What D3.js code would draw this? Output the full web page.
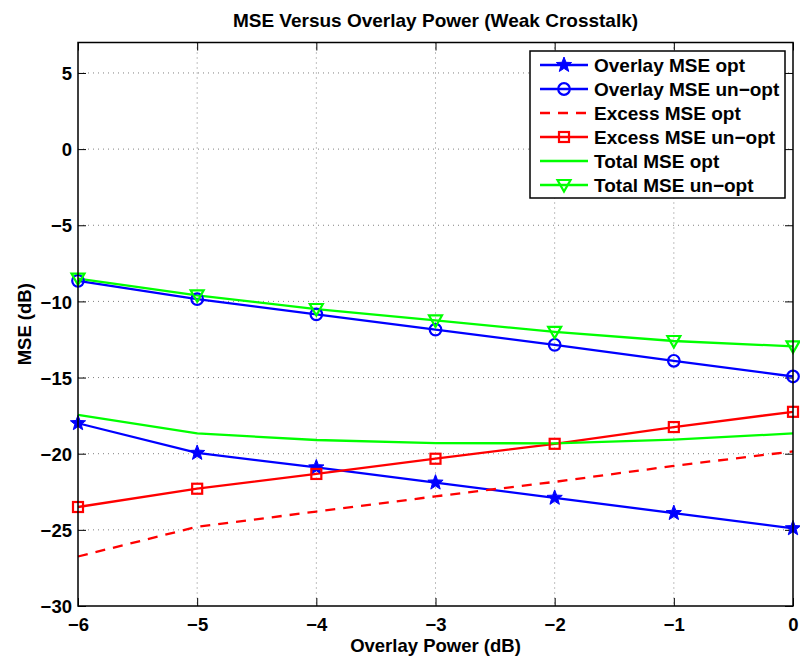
<!DOCTYPE html>
<html>
<head>
<meta charset="utf-8">
<script src="https://cdn.jsdelivr.net/npm/d3@7/dist/d3.min.js"></script>
<style>
  html, body { margin: 0; padding: 0; background: #fff; }
  svg { display: block; }
  text { font-family: "Liberation Sans", Arial, Helvetica, sans-serif; font-weight: bold; fill: #000; }
</style>
</head>
<body>
<svg id="chart" width="800" height="658"></svg>
<script>
// ---- data ----
const xValues = [-6, -5, -4, -3, -2, -1, 0];
const overlayOpt   = [-18.0, -19.95, -20.9, -21.9, -22.9, -23.9, -24.9];
const overlayUnopt = [-8.65, -9.85, -10.85, -11.85, -12.85, -13.9, -14.93];
const excessOpt    = [-26.75, -24.8, -23.8, -22.8, -21.85, -20.8, -19.85];
const excessUnopt  = [-23.5, -22.3, -21.33, -20.33, -19.35, -18.25, -17.25];
const totalOpt     = [-17.45, -18.67, -19.1, -19.3, -19.32, -19.07, -18.67];
const totalUnopt   = [-8.5, -9.6, -10.5, -11.25, -12.0, -12.6, -12.95];
const xTicks = [-6, -5, -4, -3, -2, -1, 0];
const yTicks = [-30, -25, -20, -15, -10, -5, 0, 5];
const seriesNames = ["Overlay MSE opt", "Overlay MSE un\u2212opt", "Excess MSE opt",
                     "Excess MSE un\u2212opt", "Total MSE opt", "Total MSE un\u2212opt"];

const series = [
  { name: seriesNames[0], values: overlayOpt,   color: "#0000ff", dash: null,   marker: "star" },
  { name: seriesNames[1], values: overlayUnopt, color: "#0000ff", dash: null,   marker: "circle" },
  { name: seriesNames[2], values: excessOpt,    color: "#ff0000", dash: "10,8", marker: null },
  { name: seriesNames[3], values: excessUnopt,  color: "#ff0000", dash: null,   marker: "square" },
  { name: seriesNames[4], values: totalOpt,     color: "#00ff00", dash: null,   marker: null },
  { name: seriesNames[5], values: totalUnopt,   color: "#00ff00", dash: null,   marker: "triangle" }
];

// ---- layout ----
const L = 78, R = 793, T = 42.5, B = 606;
const svg = d3.select("#chart");
const x = d3.scaleLinear().domain([-6, 0]).range([L, R]);
const y = d3.scaleLinear().domain([-30, 7]).range([B, T]);

// grid
const grid = svg.append("g");
grid.selectAll("line.gx").data(xTicks.filter(d => d > -6 && d < 0)).enter().append("line")
  .attr("x1", d => x(d)).attr("x2", d => x(d)).attr("y1", T).attr("y2", B)
  .attr("stroke", "#808080").attr("stroke-width", 1).attr("stroke-dasharray", "1,4");
grid.selectAll("line.gy").data(yTicks.filter(d => d > -30)).enter().append("line")
  .attr("x1", L).attr("x2", R).attr("y1", d => y(d)).attr("y2", d => y(d))
  .attr("stroke", "#808080").attr("stroke-width", 1).attr("stroke-dasharray", "1,4");

// axes (ticks inside, box)
const tl = 8;
const fmt = d => d < 0 ? "\u2212" + Math.abs(d) : d;
const axB = svg.append("g").attr("transform", `translate(0,${B})`)
  .call(d3.axisBottom(x).tickValues(xTicks).tickSizeInner(-tl).tickSizeOuter(0).tickPadding(12).tickFormat(fmt));
const axT = svg.append("g").attr("transform", `translate(0,${T})`)
  .call(d3.axisTop(x).tickValues(xTicks).tickSizeInner(-tl).tickSizeOuter(0).tickFormat(""));
const axL = svg.append("g").attr("transform", `translate(${L},0)`)
  .call(d3.axisLeft(y).tickValues(yTicks).tickSizeInner(-tl).tickSizeOuter(0).tickPadding(6).tickFormat(fmt));
const axR = svg.append("g").attr("transform", `translate(${R},0)`)
  .call(d3.axisRight(y).tickValues(yTicks).tickSizeInner(-tl).tickSizeOuter(0).tickFormat(""));
[axB, axT, axL, axR].forEach(a => {
  a.select(".domain").remove();
  a.selectAll(".tick line").attr("stroke", "#000").attr("stroke-width", 1);
  a.selectAll("text").attr("font-size", 18.5).attr("font-weight", "bold")
    .attr("font-family", "'Liberation Sans', Arial, sans-serif").attr("fill", "#000");
});
axB.selectAll("text").attr("dy", "0.71em");
axL.selectAll("text").attr("dy", "0.36em");

// lines
const line = d3.line().x((d, i) => x(xValues[i])).y(d => y(d));
const plot = svg.append("g");
series.forEach(s => {
  plot.append("path").datum(s.values).attr("d", line)
    .attr("fill", "none").attr("stroke", s.color).attr("stroke-width", 2.3)
    .attr("stroke-dasharray", s.dash);
});

// markers
function starPath(r) {
  const pts = [];
  for (let k = 0; k < 10; k++) {
    const rr = k % 2 === 0 ? r : r * 0.42;
    const a = -Math.PI / 2 + k * Math.PI / 5;
    pts.push([rr * Math.cos(a), rr * Math.sin(a)]);
  }
  return "M" + pts.map(p => p.join(",")).join("L") + "Z";
}
function drawMarker(g, type, color, cx, cy) {
  if (type === "star") {
    g.append("path").attr("d", starPath(8)).attr("transform", `translate(${cx},${cy})`)
      .attr("fill", color).attr("stroke", color).attr("stroke-width", 1);
  } else if (type === "circle") {
    g.append("circle").attr("cx", cx).attr("cy", cy).attr("r", 5.8)
      .attr("fill", "none").attr("stroke", color).attr("stroke-width", 2.2);
  } else if (type === "square") {
    g.append("rect").attr("x", cx - 5).attr("y", cy - 5).attr("width", 10).attr("height", 10)
      .attr("fill", "none").attr("stroke", color).attr("stroke-width", 2.2);
  } else if (type === "triangle") {
    g.append("path").attr("d", "M-6.5,-5L6.5,-5L0,6.5Z").attr("transform", `translate(${cx},${cy})`)
      .attr("fill", "none").attr("stroke", color).attr("stroke-width", 2.2);
  }
}
series.forEach(s => {
  if (!s.marker) return;
  s.values.forEach((v, i) => drawMarker(plot, s.marker, s.color, x(xValues[i]), y(v)));
});

// frame
svg.append("rect").attr("x", L).attr("y", T).attr("width", R - L).attr("height", B - T)
  .attr("fill", "none").attr("stroke", "#000").attr("stroke-width", 1.5);

// legend
const lg = svg.append("g");
const LX = 530, LY = 51, LW = 255, LH = 147;
lg.append("rect").attr("x", LX).attr("y", LY).attr("width", LW).attr("height", LH)
  .attr("fill", "#fff").attr("stroke", "#000").attr("stroke-width", 1.5);
series.forEach((s, i) => {
  const cy = 65 + i * 24;
  lg.append("line").attr("x1", 540).attr("x2", 588).attr("y1", cy).attr("y2", cy)
    .attr("stroke", s.color).attr("stroke-width", 2.3).attr("stroke-dasharray", s.dash);
  if (s.marker) drawMarker(lg, s.marker, s.color, 564, cy);
  lg.append("text").attr("x", 594).attr("y", cy).attr("dy", "0.36em")
    .attr("font-size", 19).text(s.name);
});

// titles
svg.append("text").attr("x", (L + R) / 2).attr("y", 27).attr("text-anchor", "middle")
  .attr("font-size", 19).text("MSE Versus Overlay Power (Weak Crosstalk)");
svg.append("text").attr("x", (L + R) / 2).attr("y", 652).attr("text-anchor", "middle")
  .attr("font-size", 18.5).text("Overlay Power (dB)");
svg.append("text").attr("transform", `translate(31,${(T + B) / 2}) rotate(-90)`)
  .attr("text-anchor", "middle").attr("font-size", 18.5).text("MSE (dB)");
</script>
</body>
</html>
